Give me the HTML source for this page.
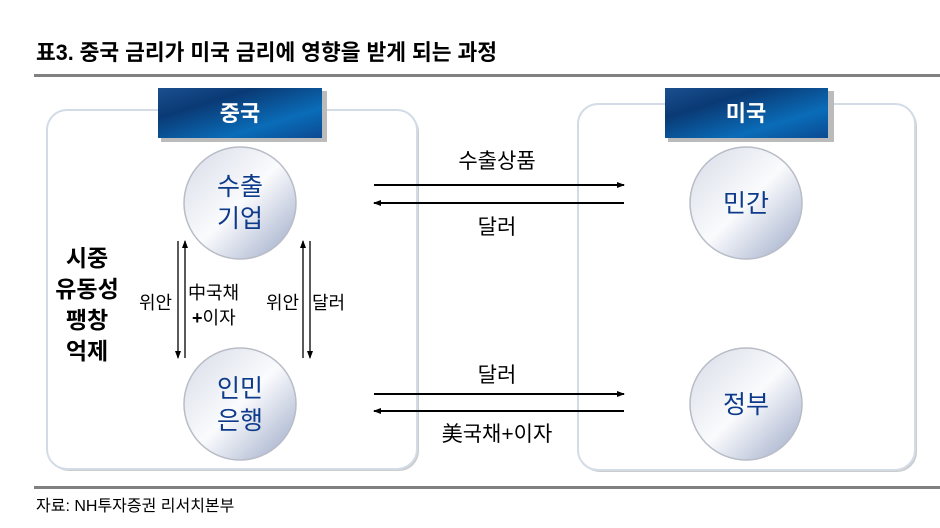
<!DOCTYPE html>
<html><head><meta charset="utf-8">
<style>
html,body{margin:0;padding:0;background:#fff;}
svg{display:block;}
text{font-family:"Liberation Sans","Noto Sans CJK KR",sans-serif;}
</style></head>
<body>
<svg width="940" height="528" viewBox="0 0 940 528" xmlns="http://www.w3.org/2000/svg">
<defs>
<linearGradient id="hdr" x1="0" y1="0" x2="1" y2="1">
<stop offset="0" stop-color="#1a4f8f"/><stop offset="0.3" stop-color="#0a3a75"/><stop offset="0.7" stop-color="#0a6cb8"/><stop offset="1" stop-color="#0b4a92"/>
</linearGradient>
<linearGradient id="circ" x1="0" y1="0" x2="1" y2="1">
<stop offset="0" stop-color="#d6dbe6"/><stop offset="0.5" stop-color="#fafbfd"/><stop offset="1" stop-color="#9aa7c6"/>
</linearGradient>
<marker id="ah" markerWidth="8" markerHeight="8" refX="7" refY="4" orient="auto" markerUnits="userSpaceOnUse">
<path d="M0,1 L8,4 L0,7 Z" fill="#000"/></marker>
</defs>
<text x="36" y="60" font-size="22" font-weight="bold" fill="#000" textLength="461" lengthAdjust="spacingAndGlyphs">표3. 중국 금리가 미국 금리에 영향을 받게 되는 과정</text>
<rect x="34" y="74" width="906" height="3" fill="#808080"/>

<rect x="49" y="112" width="370" height="359" rx="20" fill="#aaa" opacity="0.6"/>
<rect x="47" y="110" width="370" height="359" rx="20" fill="#fff" stroke="#d3dbe6" stroke-width="2"/>
<rect x="580" y="106" width="337" height="366" rx="20" fill="#aaa" opacity="0.6"/>
<rect x="578" y="104" width="337" height="366" rx="20" fill="#fff" stroke="#d3dbe6" stroke-width="2"/>

<rect x="161" y="91" width="166" height="51" fill="#bbb"/>
<rect x="158" y="88" width="164" height="50" fill="url(#hdr)"/>
<text x="240" y="121" font-size="22" font-weight="bold" fill="#fff" text-anchor="middle">중국</text>
<rect x="668" y="91" width="166" height="51" fill="#bbb"/>
<rect x="665" y="88" width="163" height="50" fill="url(#hdr)"/>
<text x="746" y="121" font-size="22" font-weight="bold" fill="#fff" text-anchor="middle">미국</text>

<g stroke="#b8bcc6" stroke-width="1.5" fill="url(#circ)">
<circle cx="240" cy="203" r="56"/>
<circle cx="240" cy="404" r="56"/>
<circle cx="746" cy="203" r="56"/>
<circle cx="746" cy="404" r="56"/>
</g>
<g font-size="25" fill="#0d3a8a" text-anchor="middle">
<text x="240" y="195">수출</text><text x="240" y="227">기업</text>
<text x="240" y="397">인민</text><text x="240" y="429">은행</text>
<text x="746" y="212">민간</text>
<text x="746" y="413">정부</text>
</g>

<g stroke="#000" stroke-width="2">
<line x1="374" y1="185" x2="624" y2="185" marker-end="url(#ah)"/>
<line x1="624" y1="203" x2="374" y2="203" marker-end="url(#ah)"/>
<line x1="374" y1="394" x2="624" y2="394" marker-end="url(#ah)"/>
<line x1="624" y1="411" x2="374" y2="411" marker-end="url(#ah)"/>
</g>
<g font-size="21" fill="#000" text-anchor="middle">
<text x="497" y="168">수출상품</text>
<text x="497" y="234">달러</text>
<text x="497" y="382">달러</text>
<text x="497" y="441">美국채+이자</text>
</g>

<g stroke="#000" stroke-width="1.3">
<line x1="178" y1="241" x2="178" y2="358" marker-end="url(#ah)"/>
<line x1="185" y1="358" x2="185" y2="241" marker-end="url(#ah)"/>
<line x1="303" y1="358" x2="303" y2="241" marker-end="url(#ah)"/>
<line x1="310" y1="241" x2="310" y2="358" marker-end="url(#ah)"/>
</g>
<g font-size="18" fill="#000">
<text x="139" y="309">위안</text>
<text x="188" y="299">中국채</text>
<text x="192" y="324"><tspan font-weight="bold">+</tspan>이자</text>
<text x="266" y="309">위안</text>
<text x="312" y="309">달러</text>
</g>
<g font-size="23" font-weight="bold" fill="#000" text-anchor="middle">
<text x="87" y="266">시중</text>
<text x="87" y="297">유동성</text>
<text x="87" y="328">팽창</text>
<text x="87" y="359">억제</text>
</g>

<rect x="34" y="486" width="906" height="3" fill="#808080"/>
<text x="36" y="511" font-size="16" fill="#000">자료: NH투자증권 리서치본부</text>
</svg>
</body></html>
